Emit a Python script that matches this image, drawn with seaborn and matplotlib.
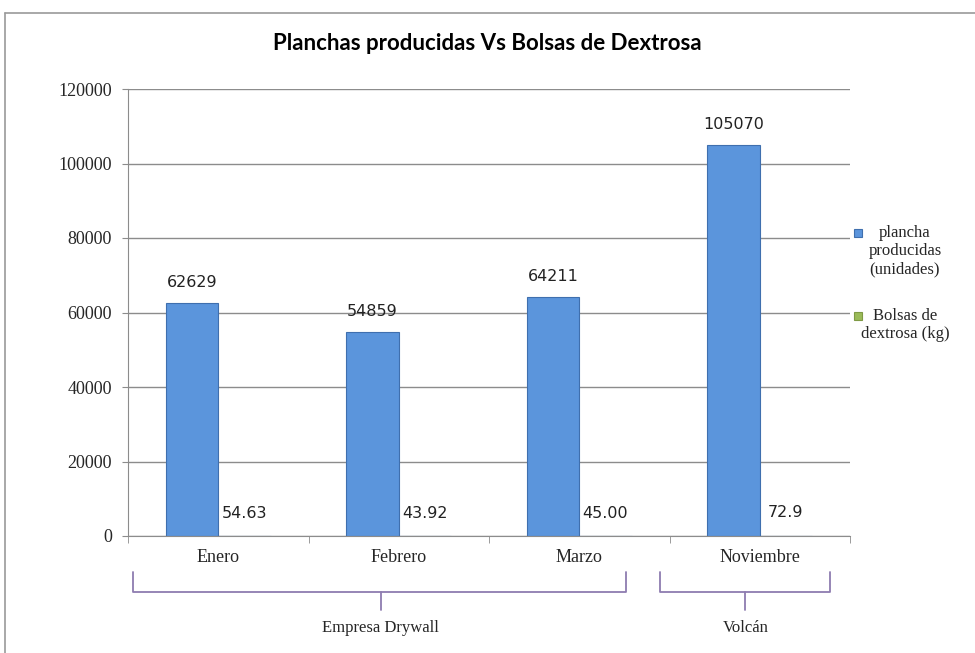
import matplotlib
matplotlib.use("Agg")
import matplotlib.pyplot as plt
from matplotlib.lines import Line2D
from matplotlib.patches import Rectangle
import seaborn as sns
import pandas as pd
import numpy as np

meses = ["Enero", "Febrero", "Marzo", "Noviembre"]
planchas = [62629, 54859, 64211, 105070]
bolsas = [54.63, 43.92, 45.00, 72.9]
planchas_lbl = ["62629", "54859", "64211", "105070"]
bolsas_lbl = ["54.63", "43.92", "45.00", "72.9"]
series = ["plancha\nproducidas\n(unidades)", "Bolsas de\ndextrosa (kg)"]
grupos = ["Empresa Drywall", "Volcán"]
yticks = [0, 20000, 40000, 60000, 80000, 100000, 120000]

df = pd.DataFrame({
    "mes": meses * 2,
    "valor": planchas + bolsas,
    "serie": [series[0]] * 4 + [series[1]] * 4,
})

sns.set_style("white")
fig = plt.figure(figsize=(9.75, 6.53), dpi=100)
ax = fig.add_axes([128/975, 1-536/653, 722/975, 447/653])

blue = "#5B95DC"
green = "#9BBB59"
sns.barplot(data=df, x="mes", y="valor", hue="serie", order=meses,
            hue_order=series, palette=[blue, green], width=0.58,
            ax=ax, legend=False, saturation=1, edgecolor="#3F6FAE", linewidth=0.8)

ax.set_ylim(0, 120000)
ax.set_xlim(-0.5, 3.5)
ax.set_yticks(yticks)
ax.set_yticklabels([str(v) for v in yticks], fontfamily="Liberation Serif", fontsize=13)
ax.set_xticklabels(meses, fontfamily="Liberation Serif", fontsize=13)
ax.set_xlabel("")
ax.set_ylabel("")
ax.yaxis.grid(True, color="#8c8c8c", linewidth=1)
ax.set_axisbelow(True)
for s in ["top", "right"]:
    ax.spines[s].set_visible(False)
for s in ["left", "bottom"]:
    ax.spines[s].set_color("#8c8c8c")
ax.tick_params(axis="y", length=4.5, color="#8c8c8c", left=True, pad=7)
ax.tick_params(axis="x", length=0, pad=9)
ax.set_xticks([-0.5, 0.5, 1.5, 2.5, 3.5], minor=True)
ax.tick_params(axis="x", which="minor", length=5, color="#8c8c8c", bottom=True)

conts = ax.containers
ax.bar_label(conts[0], labels=planchas_lbl, padding=9, fontsize=11.5,
             fontfamily="DejaVu Sans", color="#222222")
ax.bar_label(conts[1], labels=bolsas_lbl, padding=11, fontsize=11.5,
             fontfamily="DejaVu Sans", color="#222222")

fig.text(0.5, 1-44/653, "Planchas producidas Vs Bolsas de Dextrosa",
         ha="center", va="center", fontsize=16, fontweight="bold",
         fontfamily="Lato", color="black")

# braces
trans = ax.get_xaxis_transform()
purple = "#8E7CB0"
def brace(x0, x1, xm):
    ytop = -36/447
    ybot = -56/447
    ytip = -74/447
    ax.plot([x0, x0, x1, x1], [ytop, ybot, ybot, ytop], color=purple,
            lw=1.3, transform=trans, clip_on=False, solid_joinstyle="round")
    ax.plot([xm, xm], [ybot, ytip], color=purple, lw=1.3,
            transform=trans, clip_on=False)
brace(-0.47, 2.26, 0.90)
brace(2.45, 3.39, 2.92)
ax.text(0.90, -92/447, grupos[0], transform=trans, ha="center", va="center",
        fontsize=12, fontfamily="Liberation Serif")
ax.text(2.92, -92/447, grupos[1], transform=trans, ha="center", va="center",
        fontsize=12, fontfamily="Liberation Serif")

# legend (Excel-style: marker aligned with first text line)
W, H = 975, 653
for (col, ec, ytop, lab) in [(blue, "#3F6FAE", 225, series[0]),
                             (green, "#7F9A45", 308, series[1])]:
    fig.add_artist(Rectangle((854/W, 1-(ytop+12)/H), 8/W, 8/H,
                             facecolor=col, edgecolor=ec, lw=0.8,
                             transform=fig.transFigure))
    fig.text(905/W, 1-ytop/H, lab, ha="center", va="top", fontsize=12,
             fontfamily="Liberation Serif", linespacing=1.2,
             multialignment="center")

# spreadsheet frame
fig.add_artist(Line2D([5/975, 1], [1-13/653, 1-13/653], color="#9a9a9a", lw=1.2))
fig.add_artist(Line2D([5/975, 5/975], [0, 1-13/653], color="#9a9a9a", lw=1.2))

fig.savefig("out.png", dpi=100)
